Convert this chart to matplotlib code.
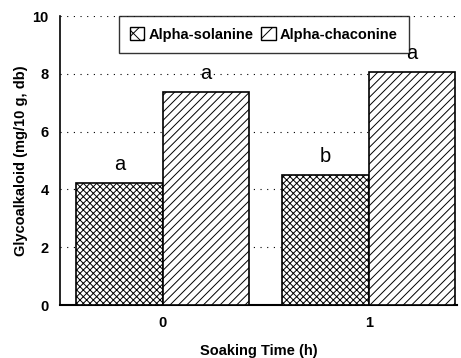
import matplotlib.pyplot as plt
import numpy as np
from matplotlib.patches import Patch

plt.rcParams['font.family'] = ['Liberation Sans', 'DejaVu Sans']
plt.rcParams['hatch.linewidth'] = 0.7

# data
times = ['0', '1']
solanine = [4.22, 4.5]
chaconine = [7.37, 8.06]
sol_letters = ['a', 'b']
cha_letters = ['a', 'a']

x = np.arange(len(times))
w = 0.42

fig = plt.figure(figsize=(4.61, 3.58), dpi=100)
ax = fig.add_axes([0.130, 0.148, 0.862, 0.807])

b1 = ax.bar(x - w/2, solanine, w, color='white', edgecolor='black',
            hatch='xxxxx', linewidth=1.2, zorder=3)
b2 = ax.bar(x + w/2, chaconine, w, color='white', edgecolor='black',
            hatch='////', linewidth=1.2, zorder=3)

for xi, v, t in zip(x - w/2, solanine, sol_letters):
    ax.text(xi, v + 0.3, t, ha='center', va='bottom', fontsize=14.5)
for xi, v, t in zip(x + w/2, chaconine, cha_letters):
    ax.text(xi, v + 0.3, t, ha='center', va='bottom', fontsize=14.5)

ax.set_xlim(-0.5, 1.43)
ax.set_ylim(0, 10)
ax.set_yticks([0, 2, 4, 6, 8, 10])
ax.set_xticks(x)
ax.set_xticklabels(times)
ax.tick_params(axis='both', length=0, labelsize=10.5, pad=8)
for lab in ax.get_xticklabels() + ax.get_yticklabels():
    lab.set_fontweight('bold')

ax.yaxis.grid(True, linestyle=(0, (1, 5)), color='black', linewidth=0.8)
ax.set_axisbelow(True)
ax.spines['right'].set_visible(False)
ax.spines['top'].set_visible(False)
ax.spines['left'].set_linewidth(1.2)
ax.spines['bottom'].set_linewidth(1.5)

ax.set_xlabel('Soaking Time (h)', fontsize=10.5, fontweight='bold', labelpad=10)
ax.set_ylabel('Glycoalkaloid (mg/10 g, db)', fontsize=10.5, fontweight='bold', labelpad=3)

handles = [Patch(facecolor='white', edgecolor='black', hatch='xx'),
           Patch(facecolor='white', edgecolor='black', hatch='//')]
leg = ax.legend(handles, ['Alpha-solanine', 'Alpha-chaconine'], loc='upper center',
                bbox_to_anchor=(0.513, 1.0), ncol=2, fontsize=10.5, frameon=True,
                fancybox=False, edgecolor='black', handlelength=1.0, handleheight=1.0,
                handletextpad=0.3, columnspacing=0.5, borderaxespad=0.0,
                borderpad=0.75)
leg.get_frame().set_linewidth(1.0)
for t in leg.get_texts():
    t.set_fontweight('bold')

fig.savefig('out.png', dpi=100)
